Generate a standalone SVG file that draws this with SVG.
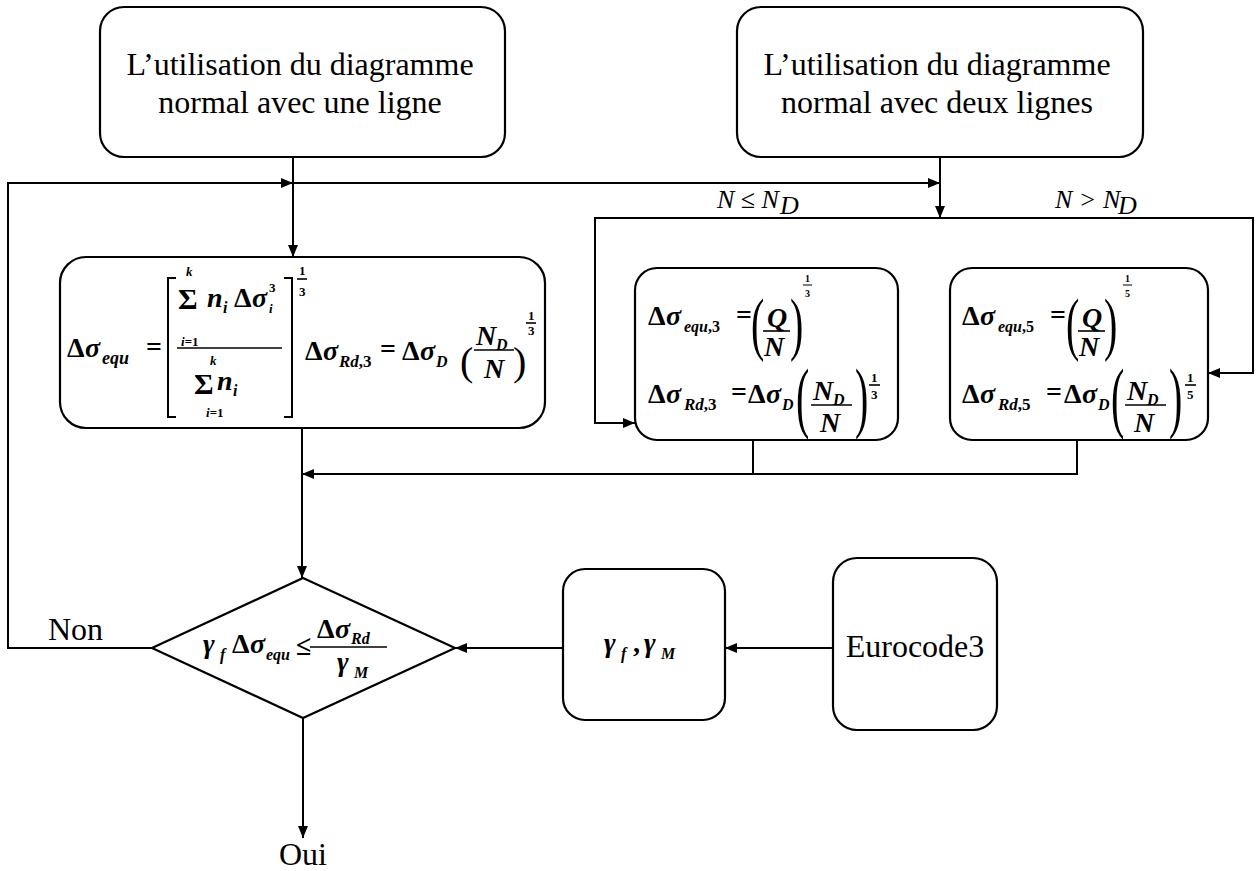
<svg xmlns="http://www.w3.org/2000/svg" width="1259" height="871" viewBox="0 0 1259 871" font-family="'Liberation Serif', 'Times New Roman', 'DejaVu Serif', serif">
<style>
.box{fill:#fff;stroke:#000;stroke-width:2.2}
.ln{fill:none;stroke:#000;stroke-width:2}
.fr{fill:none;stroke:#000;stroke-width:1.6}
text{font-family:'Liberation Serif','Times New Roman','DejaVu Serif',serif}
.t{font-size:32px;fill:#000}
.m{font-weight:bold;font-style:italic;fill:#000;font-size:28px}
.u{font-style:normal}
.sb{font-size:16px}
.ex{font-size:13px}
.ex2{font-size:10px}
.par{font-size:40px;fill:#000}
.lb{font-style:italic;font-size:26px;fill:#000}
</style>
<defs>
<marker id="ah" viewBox="0 0 12 10" refX="12" refY="5" markerWidth="12" markerHeight="10" markerUnits="userSpaceOnUse" orient="auto">
<path d="M0,0 L12,5 L0,10 Z" fill="#000"/>
</marker>
</defs>

<g id="connectors">
<path class="ln" d="M293,157 V257" marker-end="url(#ah)"/>
<path class="ln" d="M152,648 H8 V183 H293" marker-end="url(#ah)"/>
<path class="ln" d="M293,183 H940" marker-end="url(#ah)"/>
<path class="ln" d="M940,157 V218" marker-end="url(#ah)"/>
<path class="ln" d="M940,218 H595 V423 H635" marker-end="url(#ah)"/>
<path class="ln" d="M940,218 H1253 V373 H1208" marker-end="url(#ah)"/>
<path class="ln" d="M753,440 V474"/>
<path class="ln" d="M1077,440 V474 H302" marker-end="url(#ah)"/>
<path class="ln" d="M302,428 V578" marker-end="url(#ah)"/>
<path class="ln" d="M303,718 V838" marker-end="url(#ah)"/>
<path class="ln" d="M563,648 H455" marker-end="url(#ah)"/>
<path class="ln" d="M833,648 H725" marker-end="url(#ah)"/>
<text class="lb" x="717" y="208">N ≤ N</text><text class="lb sb" x="780" y="214">D</text>
<text class="lb" x="1055" y="208">N &gt; N</text><text class="lb sb" x="1118" y="214">D</text>
<text class="t" x="48" y="640">Non</text>
<text class="t" x="303" y="865" text-anchor="middle">Oui</text>
</g>

<g id="box-une-ligne">
<rect class="box" x="100" y="7" width="405" height="150" rx="24"/>
<text class="t" x="300" y="75" text-anchor="middle">L’utilisation du diagramme</text>
<text class="t" x="300" y="113" text-anchor="middle">normal avec une ligne</text>
</g>

<g id="box-deux-lignes">
<rect class="box" x="737" y="7" width="406" height="150" rx="24"/>
<text class="t" x="937" y="75" text-anchor="middle">L’utilisation du diagramme</text>
<text class="t" x="937" y="113" text-anchor="middle">normal avec deux lignes</text>
</g>

<g id="box-equ">
<rect class="box" x="60" y="257" width="485" height="171" rx="26"/>
<text class="m u" x="67" y="357">Δ</text><text class="m" x="85" y="357">σ</text><text class="m sb" x="102" y="364" style="font-size:18px">equ</text>
<text class="m u" x="146" y="356">=</text>
<path class="ln" d="M176,278 H168 V417 H176 M284,278 H292 V417 H284"/>
<text class="m ex" x="186" y="276">k</text>
<text class="m u" x="178" y="309" style="font-size:30px">Σ</text>
<text class="m ex" x="181" y="346">i<tspan class="u">=1</tspan></text>
<text class="m" x="207" y="307">n</text><text class="m sb" x="223" y="313">i</text>
<text class="m u" x="234" y="307">Δ</text><text class="m" x="252" y="307">σ</text>
<text class="m ex" x="269" y="292"><tspan class="u">3</tspan></text><text class="m ex" x="269" y="313">i</text>
<path class="fr" d="M177,348 H282"/>
<text class="m ex" x="210" y="365">k</text>
<text class="m u" x="194" y="394" style="font-size:30px">Σ</text>
<text class="m ex" x="206" y="417">i<tspan class="u">=1</tspan></text>
<text class="m" x="217" y="390">n</text><text class="m sb" x="233" y="396">i</text>
<text class="m ex u" x="299" y="275">1</text><path class="fr" d="M297,279 H307"/><text class="m ex u" x="299" y="296">3</text>

<text class="m u" x="305" y="360">Δ</text><text class="m" x="323" y="360">σ</text><text class="m sb" x="339" y="367" style="font-size:17px">Rd<tspan class="u">,3</tspan></text>
<text class="m u" x="380" y="358">=</text>
<text class="m u" x="402" y="360">Δ</text><text class="m" x="420" y="360">σ</text><text class="m sb" x="436" y="367">D</text>
<text class="par" x="460" y="375">(</text>
<text class="m" x="476" y="345">N</text><text class="m sb" x="496" y="350">D</text>
<path class="fr" d="M474,350 H514"/>
<text class="m" x="484" y="378">N</text>
<text class="par" x="513" y="375">)</text>
<text class="m ex u" x="528" y="320">1</text><path class="fr" d="M526,323 H536"/><text class="m ex u" x="528" y="335">3</text>
</g>

<g id="box-nd-le">
<rect class="box" x="635" y="268" width="263" height="172" rx="22"/>
<text class="m u" x="648" y="325">Δ</text><text class="m" x="666" y="325">σ</text><text class="m sb" x="684" y="332">equ<tspan class="u">,3</tspan></text>
<text class="m u" x="736" y="324">=</text>
<text class="par" transform="translate(751,347) scale(1,1.76)">(</text>
<text class="m" x="767" y="327">Q</text>
<path class="fr" d="M763,331 H790"/>
<text class="m" x="764" y="356">N</text>
<text class="par" transform="translate(790,347) scale(1,1.76)">)</text>
<text class="m ex2 u" x="805" y="282">1</text><path class="fr" d="M803,285 H812" style="stroke-width:1"/><text class="m ex2 u" x="805" y="297">3</text>

<text class="m u" x="648" y="403">Δ</text><text class="m" x="666" y="403">σ</text><text class="m sb" x="684" y="410" style="font-size:17px">Rd<tspan class="u">,3</tspan></text>
<text class="m u" x="731" y="401">=</text>
<text class="m u" x="748" y="403">Δ</text><text class="m" x="766" y="403">σ</text><text class="m sb" x="782" y="410">D</text>
<text class="par" transform="translate(796,423) scale(1,1.97)">(</text>
<text class="m" x="813" y="400">N</text><text class="m sb" x="833" y="405">D</text>
<path class="fr" d="M811,405 H852"/>
<text class="m" x="820" y="432">N</text>
<text class="par" transform="translate(855,423) scale(1,1.97)">)</text>
<text class="m ex u" x="871" y="382">1</text><path class="fr" d="M869,385 H880"/><text class="m ex u" x="871" y="399">3</text>
</g>

<g id="box-nd-gt">
<rect class="box" x="950" y="268" width="258" height="172" rx="22"/>
<text class="m u" x="962" y="325">Δ</text><text class="m" x="980" y="325">σ</text><text class="m sb" x="998" y="332">equ<tspan class="u">,5</tspan></text>
<text class="m u" x="1050" y="324">=</text>
<text class="par" transform="translate(1066,347) scale(1,1.76)">(</text>
<text class="m" x="1082" y="327">Q</text>
<path class="fr" d="M1078,331 H1105"/>
<text class="m" x="1079" y="356">N</text>
<text class="par" transform="translate(1104,347) scale(1,1.76)">)</text>
<text class="m ex2 u" x="1125" y="282">1</text><path class="fr" d="M1123,285 H1132" style="stroke-width:1"/><text class="m ex2 u" x="1125" y="297">5</text>

<text class="m u" x="962" y="403">Δ</text><text class="m" x="980" y="403">σ</text><text class="m sb" x="998" y="410" style="font-size:17px">Rd<tspan class="u">,5</tspan></text>
<text class="m u" x="1046" y="401">=</text>
<text class="m u" x="1064" y="403">Δ</text><text class="m" x="1082" y="403">σ</text><text class="m sb" x="1098" y="410">D</text>
<text class="par" transform="translate(1111,423) scale(1,1.97)">(</text>
<text class="m" x="1127" y="400">N</text><text class="m sb" x="1147" y="405">D</text>
<path class="fr" d="M1125,405 H1166"/>
<text class="m" x="1134" y="432">N</text>
<text class="par" transform="translate(1169,423) scale(1,1.97)">)</text>
<text class="m ex u" x="1187" y="382">1</text><path class="fr" d="M1185,385 H1196"/><text class="m ex u" x="1187" y="399">5</text>
</g>

<g id="decision">
<path class="box" d="M303,578 L455,648 L303,718 L152,648 Z"/>
<text class="m" x="203" y="653">γ</text><text class="m sb" x="220" y="660">f</text>
<text class="m u" x="232" y="653">Δ</text><text class="m" x="250" y="653">σ</text><text class="m sb" x="266" y="660">equ</text>
<text class="m u" x="296" y="655">≤</text>
<text class="m u" x="317" y="638">Δ</text><text class="m" x="335" y="638">σ</text><text class="m sb" x="351" y="644">Rd</text>
<path class="fr" d="M310,647 H387"/>
<text class="m" x="337" y="671">γ</text><text class="m sb" x="354" y="678">M</text>
</g>

<g id="box-gamma">
<rect class="box" x="563" y="569" width="162" height="151" rx="22"/>
<text class="m" x="604" y="652">γ</text><text class="m sb" x="621" y="659">f</text>
<text class="m u" x="633" y="652">,</text>
<text class="m" x="644" y="652">γ</text><text class="m sb" x="661" y="659">M</text>
</g>

<g id="box-eurocode">
<rect class="box" x="833" y="558" width="164" height="172" rx="24"/>
<text class="t" x="915" y="657" text-anchor="middle">Eurocode3</text>
</g>
</svg>
